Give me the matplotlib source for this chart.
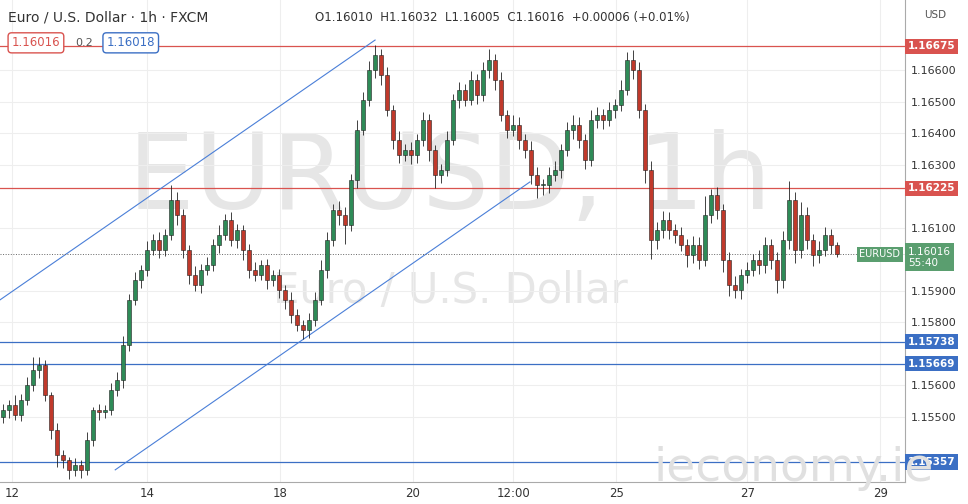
import numpy as np
import matplotlib
matplotlib.use("Agg")
import matplotlib.pyplot as plt
from matplotlib.patches import Rectangle

# closes, in 1e-5 above 1.15000
closes = [522, 538, 506, 554, 601, 649, 665, 570, 459, 380,
          364, 332, 348, 332, 427, 522, 516, 522, 586, 617,
          728, 871, 934, 966, 1029, 1061, 1029, 1077, 1188, 1140,
          1029, 950, 918, 966, 982, 1045, 1077, 1124, 1061, 1093,
          1029, 966, 950, 982, 934, 950, 903, 871, 823, 792,
          776, 808, 871, 966, 1061, 1156, 1140, 1109, 1251, 1410,
          1505, 1600, 1648, 1584, 1473, 1378, 1331, 1346, 1331, 1378,
          1442, 1346, 1267, 1283, 1378, 1505, 1537, 1505, 1568, 1521,
          1600, 1632, 1568, 1457, 1410, 1426, 1378, 1346, 1267, 1235,
          1235, 1267, 1283, 1346, 1410, 1426, 1378, 1315, 1442, 1457,
          1442, 1473, 1489, 1537, 1632, 1600, 1473, 1283, 1061, 1093,
          1124, 1093, 1077, 1045, 1014, 1045, 998, 1140, 1204, 1156,
          998, 918, 903, 950, 966, 998, 982, 1045, 998, 934,
          1061, 1188, 1029, 1140, 1061, 1014, 1029, 1077, 1045, 1016]
first_open = 500
wick_up = [20, 15, 30, 20, 25, 40, 25, 15, 10, 20,
           15, 10, 20, 15, 25, 10, 20, 15, 20, 25,
           30, 20, 25, 15, 30, 20, 25, 20, 47, 25,
           20, 15, 30, 20, 25, 20, 30, 20, 25, 20,
           15, 20, 25, 15, 20, 15, 20, 15, 25, 20,
           15, 20, 25, 30, 25, 20, 30, 25, 20, 30,
           25, 30, 32, 20, 25, 15, 30, 20, 25, 20,
           25, 20, 15, 20, 30, 20, 25, 20, 30, 20,
           25, 35, 20, 25, 15, 30, 25, 20, 30, 25,
           20, 25, 30, 20, 25, 30, 25, 20, 30, 25,
           20, 25, 20, 30, 25, 30, 25, 20, 30, 25,
           30, 25, 20, 25, 20, 30, 25, 60, 20, 25,
           20, 25, 30, 20, 25, 20, 30, 25, 20, 25,
           30, 60, 25, 40, 25, 20, 30, 25, 20, 10]
wick_dn = [20, 25, 15, 20, 15, 20, 25, 20, 30, 40,
           25, 30, 20, 25, 15, 20, 25, 20, 15, 20,
           25, 20, 15, 25, 20, 15, 25, 20, 15, 30,
           25, 30, 20, 25, 15, 20, 25, 15, 20, 25,
           30, 25, 20, 15, 30, 20, 25, 30, 25, 20,
           30, 25, 20, 15, 25, 20, 30, 60, 20, 25,
           15, 20, 25, 30, 20, 30, 25, 20, 30, 25,
           20, 35, 40, 25, 20, 15, 25, 20, 15, 30,
           20, 25, 30, 20, 25, 20, 30, 25, 30, 40,
           30, 25, 20, 25, 20, 30, 25, 30, 20, 25,
           30, 20, 25, 20, 15, 30, 25, 40, 60, 30,
           25, 30, 25, 20, 40, 25, 30, 20, 25, 30,
           40, 35, 25, 30, 25, 20, 30, 25, 30, 40,
           25, 30, 40, 25, 30, 35, 25, 20, 30, 10]

date_labels = ["12", "14", "18", "20", "12:00", "25", "27", "29"]
date_pos = [2, 24.5, 46.7, 68.8, 85.5, 102.7, 124.5, 146.7]
price_ticks = [1.155, 1.156, 1.158, 1.159, 1.161, 1.163, 1.164, 1.165, 1.166]

red_levels = [1.16675, 1.16225]
blue_levels = [1.15738, 1.15669, 1.15357]
upper_channel = ([0, 62.5], [1.15871, 1.16695])
lower_channel = ([19.2, 88.3], [1.15332, 1.16245])
last_price = 1.16016

c = 1.15 + np.array(closes) / 1e5
o = np.concatenate([[1.15 + first_open / 1e5], c[:-1]])
hi = np.maximum(o, c) + np.array(wick_up) / 1e5
lo = np.minimum(o, c) - np.array(wick_dn) / 1e5

fig = plt.figure(figsize=(9.68, 5.04), dpi=100)
ax = fig.add_axes([0, 0.044, 905 / 968, 0.956])
ax.set_xlim(0, 150.8)
ax.set_ylim(1.15294, 1.16822)
for s in ax.spines.values():
    s.set_visible(False)
ax.spines["right"].set_visible(True)
ax.spines["right"].set_color("#aaaaaa")
ax.spines["bottom"].set_visible(True)
ax.spines["bottom"].set_color("#aaaaaa")

ax.set_yticks(price_ticks)
ax.yaxis.tick_right()
ax.set_yticklabels([f"{p:.5f}" for p in price_ticks], fontsize=8, color="#333333")
ax.set_xticks(date_pos)
ax.set_xticklabels(date_labels, fontsize=8.5, color="#333333")
ax.tick_params(length=0, pad=4)
ax.grid(color="#eeeeee", linewidth=0.8)
ax.set_axisbelow(True)

ax.text(75, 1.1625, "EURUSD, 1h", fontsize=76, color="#e6e6e6", ha="center", va="center", zorder=0)
ax.text(75, 1.1590, "Euro / U.S. Dollar", fontsize=30, color="#e6e6e6", ha="center", va="center", zorder=0)

for lvl in red_levels:
    ax.axhline(lvl, color="#d9534f", linewidth=0.9)
for lvl in blue_levels:
    ax.axhline(lvl, color="#3b6fc4", linewidth=0.9)
ax.plot(*upper_channel, color="#4a7fd8", linewidth=0.8)
ax.plot(*lower_channel, color="#4a7fd8", linewidth=0.8)
ax.axhline(last_price, color="#666666", linewidth=0.7, linestyle=":")

w = 0.7
for i in range(len(c)):
    up = c[i] >= o[i]
    ax.vlines(i + 0.5, lo[i], hi[i], color="#222222", linewidth=0.6, zorder=3)
    body = max(abs(c[i] - o[i]), 0.00002)
    ax.add_patch(Rectangle((i + 0.5 - w / 2, min(o[i], c[i])), w, body,
                           facecolor="#2e8b57" if up else "#c0392b",
                           edgecolor="#222222", linewidth=0.4, zorder=4))

def price_tag(y, txt, color):
    ax.text(1.003, y, txt, transform=ax.get_yaxis_transform(), fontsize=7.5,
            color="white", fontweight="bold", va="center", ha="left",
            bbox=dict(boxstyle="square,pad=0.25", fc=color, ec="none"), zorder=10)

for lvl in red_levels:
    price_tag(lvl, f"{lvl:.5f}", "#d9534f")
for lvl in blue_levels:
    price_tag(lvl, f"{lvl:.5f}", "#3b6fc4")
ax.text(1.003, last_price - 0.0001, "1.16016\n55:40", transform=ax.get_yaxis_transform(),
        fontsize=7.5, color="white", va="center", ha="left", linespacing=1.2,
        bbox=dict(boxstyle="square,pad=0.3", fc="#5a9e6f", ec="none"), zorder=10)
ax.text(0.995, last_price, "EURUSD", transform=ax.get_yaxis_transform(), fontsize=7,
        color="white", va="center", ha="right",
        bbox=dict(boxstyle="square,pad=0.25", fc="#5a9e6f", ec="none"), zorder=10)

fig.text(0.008, 0.965, "Euro / U.S. Dollar · 1h · FXCM", fontsize=10, color="#333333", va="center")
fig.text(0.325, 0.965, "O1.16010  H1.16032  L1.16005  C1.16016  +0.00006 (+0.01%)",
         fontsize=8.5, color="#333333", va="center")
fig.text(0.012, 0.915, "1.16016", fontsize=8.5, color="#d9534f", va="center",
         bbox=dict(boxstyle="round,pad=0.3", fc="white", ec="#d9534f"))
fig.text(0.078, 0.915, "0.2", fontsize=8, color="#555555", va="center")
fig.text(0.11, 0.915, "1.16018", fontsize=8.5, color="#3b6fc4", va="center",
         bbox=dict(boxstyle="round,pad=0.3", fc="white", ec="#3b6fc4"))
fig.text(0.955, 0.97, "USD", fontsize=7.5, color="#555555", va="center")
fig.text(0.675, 0.07, "ieconomy.ie", fontsize=34, color="#e0e0e0", va="center", zorder=0)

fig.savefig("out.png", dpi=100)
